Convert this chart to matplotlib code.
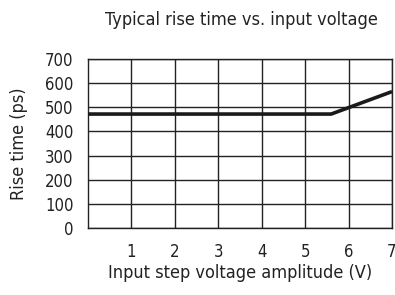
import matplotlib
matplotlib.use("Agg")
import matplotlib.pyplot as plt

# narrow look like the reference
plt.rcParams['font.family'] = ['DejaVu Sans']
plt.rcParams['font.stretch'] = 'condensed'

# data
voltage = [0, 5.6, 7]
rise_time = [472, 472, 565]
x_ticks = [1, 2, 3, 4, 5, 6, 7]
y_ticks = [0, 100, 200, 300, 400, 500, 600, 700]

fig = plt.figure(figsize=(3.95, 2.95), dpi=100)
ax = fig.add_axes([88/395, 1 - 228/295, (392-88)/395, (228-59)/295])

ax.plot(voltage, rise_time, color="#1a1a1a", lw=2.6, solid_capstyle="butt", zorder=3)

ax.set_xlim(0, 7)
ax.set_ylim(0, 700)
ax.set_xticks(x_ticks)
ax.set_yticks(y_ticks)
ax.grid(True, color="#222222", lw=1.0)
ax.tick_params(length=0, labelsize=12, colors="#222222", pad=11)
ax.tick_params(axis="y", pad=10.5)
for s in ax.spines.values():
    s.set_color("#222222")
    s.set_linewidth(1.0)

ax.set_xlabel("Input step voltage amplitude (V)", fontsize=13, color="#222222", labelpad=2)
ax.set_ylabel("Rise time (ps)", fontsize=13, color="#222222", labelpad=12)
fig.text(241/395, 1 - 20/295, "Typical rise time vs. input voltage", ha="center", va="center",
         fontsize=13, color="#222222")

fig.savefig("out.png", dpi=100)
